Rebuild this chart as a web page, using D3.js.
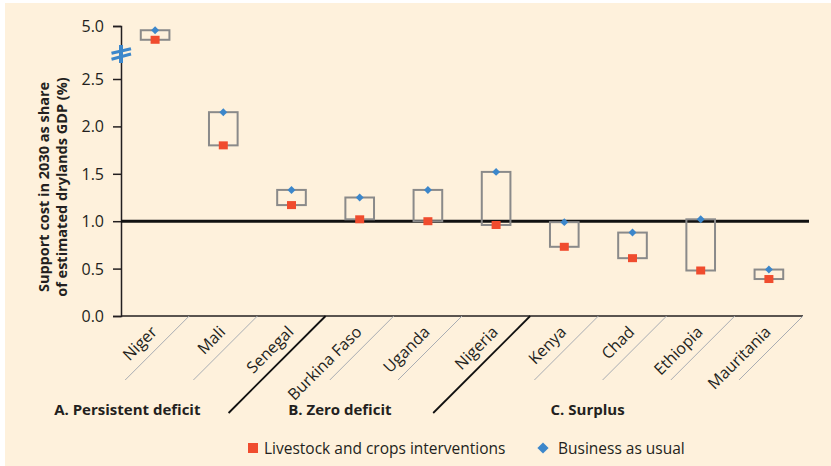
<!DOCTYPE html>
<html><head><meta charset="utf-8">
<script src="https://cdn.jsdelivr.net/npm/d3@7"></script>
<style>
html,body{margin:0;padding:0;background:#fff;}
svg{display:block;}
text{font-family:"Open Sans",sans-serif;fill:#231f20;}
</style></head>
<body>
<script>
// ---- data ----
const categories = ["Niger","Mali","Senegal","Burkina Faso","Uganda","Nigeria","Kenya","Chad","Ethiopia","Mauritania"];
const businessAsUsual = [4.80, 2.15, 1.33, 1.25, 1.33, 1.52, 0.99, 0.88, 1.02, 0.49];
const livestockCrops  = [4.35, 1.80, 1.17, 1.02, 1.00, 0.96, 0.73, 0.61, 0.48, 0.39];
const groupLabels = ["A. Persistent deficit","B. Zero deficit","C. Surplus"];
const groupSizes = [3, 3, 4];
const yTicks = [0, 0.5, 1.0, 1.5, 2.0, 2.5, 5.0];
const yTitle = ["Support cost in 2030 as share","of estimated drylands GDP (%)"];
const legendLabels = ["Livestock and crops interventions","Business as usual"];
const refLine = 1.0;

// ---- layout ----
const W = 831, H = 466;
const RED = "#f04c2e", BLUE = "#3c87cb", BG = "#fef1dc", INK = "#231f20";
const groupLabelShift = [-96, -88, -79];

const svg = d3.select("body").append("svg").attr("width", W).attr("height", H);
svg.append("rect").attr("x",5).attr("y",3).attr("width",W-5).attr("height",H-3).attr("fill",BG);

const x = d3.scaleBand().domain(categories).range([121, 803]).padding(0);
// broken axis: linear 0–2.5, compressed segment 2.5–5.0
const y = d3.scaleLinear().domain([0, 2.5, 5.0]).range([316, 79, 26]);

// y axis
const yAxis = d3.axisLeft(y).tickValues(yTicks).tickFormat(d3.format(".1f")).tickSize(8).tickPadding(9);
const gy = svg.append("g").attr("transform","translate(121,0)").call(yAxis);
gy.attr("font-size", 16).attr("font-family", "Open Sans");
gy.select(".domain").attr("stroke",INK).attr("stroke-width",1.5);
gy.selectAll(".tick line").attr("stroke",INK).attr("stroke-width",1.5);
gy.selectAll(".tick text").style("font-size","16px").attr("fill",INK).attr("dy","0.34em");

// axis break symbol
const brk = svg.append("g");
brk.append("rect").attr("x",119).attr("y",45).attr("width",4).attr("height",18).attr("fill",BLUE);
[[53.3,48.7],[59.3,54]].forEach(([a,b])=>{
  brk.append("line").attr("x1",111.5).attr("y1",a).attr("x2",131).attr("y2",b)
    .attr("stroke",BLUE).attr("stroke-width",3);
});

// x axis baseline
svg.append("line").attr("x1",121).attr("x2",803).attr("y1",y(0)).attr("y2",y(0))
  .attr("stroke",INK).attr("stroke-width",1.5);

// reference line at 1.0
svg.append("line").attr("x1",121).attr("x2",809).attr("y1",y(refLine)).attr("y2",y(refLine))
  .attr("stroke","#111").attr("stroke-width",3);

// separators
let cum = 0;
const groupEnds = groupSizes.map(s => (cum += s));
for (let i = 1; i <= categories.length; i++) {
  const bx = x.range()[0] + i * x.bandwidth();
  const isGroup = groupEnds.includes(i) && i < categories.length;
  const len = isGroup ? 97 : 64;
  svg.append("line").attr("x1",bx).attr("y1",y(0)).attr("x2",bx-len).attr("y2",y(0)+len)
    .attr("stroke", isGroup ? "#111" : "#a9adb3").attr("stroke-width", isGroup ? 1.8 : 1);
}

// category labels
categories.forEach(c => {
  const cx = x(c) + x.bandwidth()/2;
  svg.append("text").attr("transform",`translate(${cx+3},${333}) rotate(-45)`)
    .attr("text-anchor","end").style("font-size","16px").text(c);
});

// group labels
let start = 0;
groupLabels.forEach((g,i) => {
  const x0 = x(categories[start]), x1 = x(categories[start + groupSizes[i] - 1]) + x.bandwidth();
  svg.append("text").attr("x",(x0+x1)/2 + groupLabelShift[i]).attr("y",415).attr("text-anchor","middle")
    .style("font-size","15px").style("font-weight","bold").text(g);
  start += groupSizes[i];
});

// boxes
const bw = x.bandwidth()*0.42;
categories.forEach((c,i) => {
  const cx = x(c) + x.bandwidth()/2;
  const y1 = y(businessAsUsual[i]), y2 = y(livestockCrops[i]);
  svg.append("rect").attr("x",cx-bw/2).attr("y",Math.min(y1,y2)).attr("width",bw)
    .attr("height",Math.abs(y2-y1)).attr("fill","none").attr("stroke","#8a8a8a").attr("stroke-width",2);
});
// markers
categories.forEach((c,i) => {
  const cx = x(c) + x.bandwidth()/2;
  svg.append("rect").attr("x",cx-4.5).attr("y",y(livestockCrops[i])-4).attr("width",9).attr("height",8).attr("fill",RED);
  svg.append("path").attr("d",d3.symbol(d3.symbolDiamond2, 40)()).attr("transform",`translate(${cx},${y(businessAsUsual[i])})`).attr("fill",BLUE);
});

// y title
const yt = svg.append("text").attr("transform","translate(0,187) rotate(-90)").attr("text-anchor","middle")
  .style("font-size","14.5px").style("font-weight","bold");
yt.append("tspan").attr("x",0).attr("y",49).text(yTitle[0]);
yt.append("tspan").attr("x",0).attr("y",67).text(yTitle[1]);

// legend
svg.append("rect").attr("x",248).attr("y",443).attr("width",10).attr("height",10).attr("fill",RED);
svg.append("text").attr("x",264).attr("y",453.5).style("font-size","15.5px").text(legendLabels[0]);
svg.append("path").attr("d",d3.symbol(d3.symbolDiamond2, 80)()).attr("transform","translate(543,448)").attr("fill",BLUE);
svg.append("text").attr("x",558).attr("y",453.5).style("font-size","15.5px").text(legendLabels[1]);
</script>
</body></html>
